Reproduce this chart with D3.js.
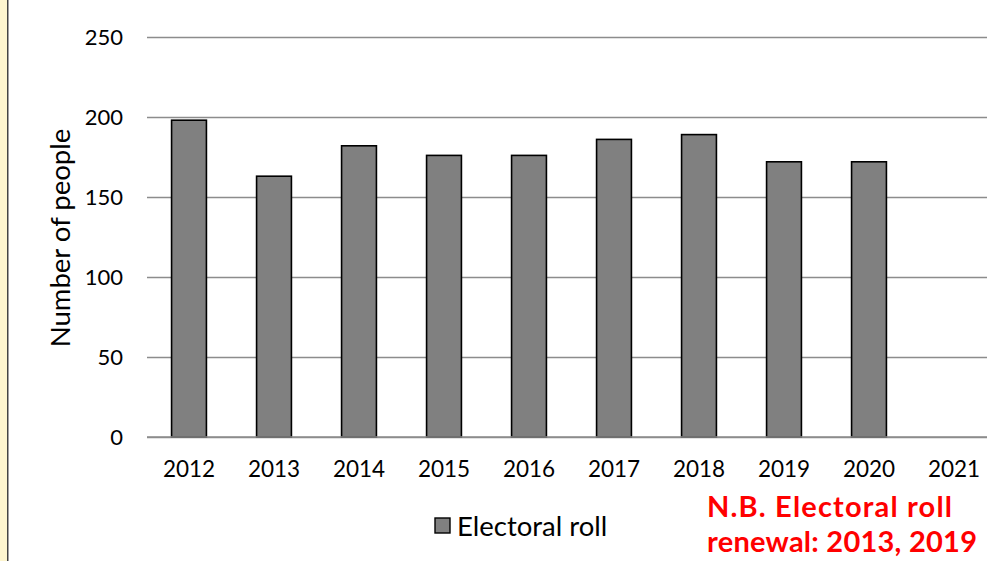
<!DOCTYPE html>
<html>
<head>
<meta charset="utf-8">
<script src="https://cdn.jsdelivr.net/npm/d3@7"></script>
<style>
html,body{margin:0;padding:0;background:#fff;overflow:hidden;}
svg{display:block;}
text{font-family:"Lato","Open Sans",sans-serif;}
</style>
</head>
<body>
<svg id="chart" width="987" height="561"></svg>
<script>
const years = ["2012","2013","2014","2015","2016","2017","2018","2019","2020","2021"];
const electoralRoll = [198,163,182,176,176,186,189,172,172,null];
const yTicks = [0,50,100,150,200,250];
const seriesName = "Electoral roll";
const noteLines = ["N.B. Electoral roll","renewal: 2013, 2019"];

const svg = d3.select("#chart");
const W = 987, H = 561;

// left decorative strip
svg.append("rect").attr("x",0).attr("y",0).attr("width",7).attr("height",H).attr("fill","#fdf5cf");
svg.append("rect").attr("x",7).attr("y",0).attr("width",1.5).attr("height",H).attr("fill","#444");

const x = d3.scaleBand().domain(years).range([146.5, 996.5]).paddingInner(0.59).paddingOuter(0.295);
const y = d3.scaleLinear().domain([0,250]).range([437,37]);

const g = svg.append("g");

// gridlines
const yAxis = d3.axisLeft(y).tickValues(yTicks).tickSize(-(W-147)).tickPadding(24);
const ya = g.append("g").attr("transform","translate(147,0)").call(yAxis);
ya.select(".domain").remove();
ya.selectAll(".tick line").attr("stroke","#8c8c8c").attr("stroke-width",1.6);
ya.selectAll(".tick text").attr("font-size",22).attr("fill","#000");

// bars
g.selectAll("rect.bar").data(years.map((d,i)=>({year:d,v:electoralRoll[i]})).filter(d=>d.v!=null))
 .enter().append("rect").attr("class","bar")
 .attr("x",d=>x(d.year)).attr("width",x.bandwidth())
 .attr("y",d=>y(d.v)).attr("height",d=>y(0)-y(d.v))
 .attr("fill","#808080").attr("stroke","#000").attr("stroke-width",1.6);

// x axis
const xAxis = d3.axisBottom(x).tickSize(0).tickPadding(24);
const xa = g.append("g").attr("transform","translate(0,437)").call(xAxis);
xa.select(".domain").remove();
xa.selectAll(".tick text").attr("font-size",22.5).attr("fill","#000");
g.append("line").attr("x1",147).attr("x2",W).attr("y1",437).attr("y2",437).attr("stroke","#8c8c8c").attr("stroke-width",1.6);

// y label
svg.append("text").attr("transform","translate(70,238) rotate(-90)").attr("text-anchor","middle")
 .attr("font-size",27.5).attr("fill","#000").text("Number of people");

// legend
svg.append("rect").attr("x",435).attr("y",518).attr("width",15).attr("height",15)
 .attr("fill","#808080").attr("stroke","#000").attr("stroke-width",1.4);
svg.append("text").attr("x",457).attr("y",536).attr("font-size",27.5).attr("fill","#000").text(seriesName);

// note
const noteWidths = [245, 270];
svg.selectAll("text.note").data(noteLines).enter().append("text").attr("class","note")
 .attr("x",707).attr("y",(d,i)=>517+i*35).attr("font-size",29).attr("font-weight","bold")
 .attr("textLength",(d,i)=>noteWidths[i]).attr("lengthAdjust","spacing")
 .attr("fill","#ff0000").text(d=>d);
</script>
</body>
</html>
